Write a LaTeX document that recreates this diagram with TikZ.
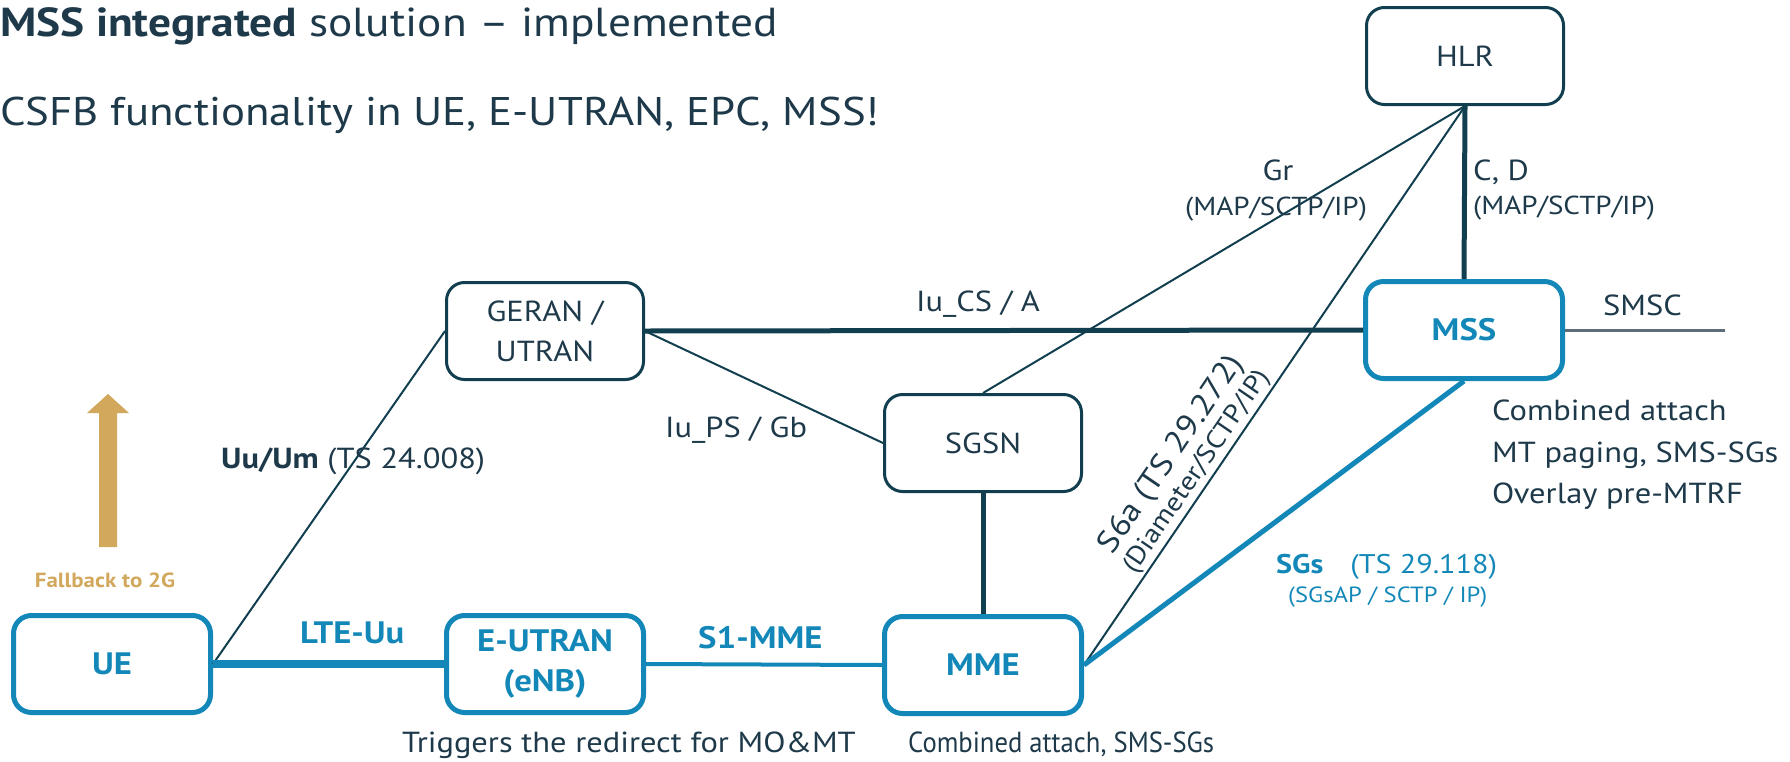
\documentclass[tikz,border=0pt]{standalone}
\usepackage{graphicx}
\usepackage{fontspec}
\setmainfont{PT Sans}[FakeStretch=1.12]
\definecolor{ink}{HTML}{1E3A4A}
\definecolor{navy}{HTML}{123F50}
\definecolor{eblue}{HTML}{1388B8}
\definecolor{gold}{HTML}{D2A85C}
\definecolor{greyline}{HTML}{5E6E78}
\newcommand{\fsz}[1]{\fontsize{#1}{#1}\selectfont}
\begin{document}
\begin{tikzpicture}[x=1pt,y=-1pt,
  box/.style={draw=navy, line width=3pt, rounded corners=18pt,
    minimum width=197pt, minimum height=97pt, align=center,
    text=ink, font=\fontsize{29}{40}\selectfont, inner sep=0pt},
  bluebox/.style={box, draw=eblue, line width=5pt, text=eblue,
    font=\fontsize{31}{40}\selectfont\bfseries},
  thickline/.style={draw=navy, line width=5pt},
  thinline/.style={draw=navy, line width=2pt},
  lbl/.style={text=ink, font=\fsz{29}, inner sep=0pt},
  small/.style={text=ink, font=\fsz{26}, inner sep=0pt},
  bluelbl/.style={text=eblue, font=\fsz{31}\bfseries, inner sep=0pt}]
\useasboundingbox (0,0) rectangle (1790,761);

% headings
\node[anchor=base west, text=ink, font=\fsz{40.5}, inner sep=0pt] (title) at (0,36)
  {\textbf{MSS integrated} solution -- implemented};
\node[anchor=base west, text=ink, font=\fsz{40}, inner sep=0pt] (subtitle) at (0,125)
  {CSFB functionality in UE, E-UTRAN, EPC, MSS!};

% network elements
\node[box] (hlr) at (1465,56) {HLR};
\node[box] (geran) at (545,331) {GERAN /\\UTRAN};
\node[bluebox] (mss) at (1464,330) {MSS};
\node[box] (sgsn) at (983,443) {SGSN};
\node[bluebox] (ue) at (112,664) {UE};
\node[bluebox] (enb) at (545,664) {E-UTRAN\\(eNB)};
\node[bluebox] (mme) at (983,665) {MME};
\coordinate (smsc) at (1725,330);

% interfaces
\draw[thinline] (ue.east) -- (geran.west);
\draw[thinline] (geran.east) -- (sgsn.west);
\draw[thinline] (sgsn.north) -- (hlr.south);
\draw[thinline] (mme.east) -- (hlr.south)
  node[pos=0.33, sloped, above=2pt, align=center, text=ink, inner sep=0pt]
  {{\fsz{31}S6a (TS 29.272)}\\[3pt]{\fsz{26}(Diameter/SCTP/IP)}};
\draw[thickline] (geran.east) -- (mss.west);
\draw[thickline] (hlr.south) -- (mss.north);
\draw[thickline] (sgsn.south) -- (mme.north);
\draw[draw=eblue, line width=8pt] (ue.east) -- (enb.west);
\draw[draw=eblue, line width=4pt] (enb.east) -- (mme.west);
\draw[draw=eblue, line width=5pt] (mme.east) -- (mss.south);
\draw[draw=greyline, line width=3pt] (mss.east) -- (smsc);

% interface labels
\node[lbl, anchor=base] (lcs) at (978,311) {Iu\_CS / A};
\node[lbl, anchor=base west] (lps) at (665,437) {Iu\_PS / Gb};
\node[lbl, anchor=base] (lgr) at (1278,180) {Gr};
\node[small, anchor=base] (lgrp) at (1276,215) {(MAP/SCTP/IP)};
\node[lbl, anchor=base west] (lcd) at (1473,180) {C, D};
\node[small, anchor=base west] (lcdp) at (1473,214) {(MAP/SCTP/IP)};
\node[lbl, anchor=base west] (lsmsc) at (1603,315) {SMSC};
\node[lbl, anchor=base west] (luu) at (221,468) {\textbf{Uu/Um} (TS 24.008)};
\node[bluelbl, anchor=base west] (llte) at (300,643) {LTE-Uu};
\node[bluelbl, anchor=base west] (ls1) at (698,648) {S1-MME};
\node[text=eblue, font=\fsz{27}, inner sep=0pt, anchor=base west] (lsgs) at (1276,573)
  {\textbf{SGs}\quad(TS 29.118)};
\node[text=eblue, font=\fsz{22}, inner sep=0pt, anchor=base west] (lsgsp) at (1288,602)
  {(SGsAP / SCTP / IP)};

% notes
\node[lbl, anchor=base west] (n1) at (1492,420) {Combined attach};
\node[lbl, anchor=base west] (n2) at (1492,462) {MT paging, SMS-SGs};
\node[lbl, anchor=base west] (n3) at (1492,503) {Overlay pre-MTRF};
\node[lbl, anchor=base west] (n4) at (402,752) {Triggers the redirect for MO\&MT};
\node[lbl, anchor=base west] (n5) at (908,752)
  {\scalebox{0.82}[1]{Combined attach, SMS-SGs}};

% fallback arrow
\fill[gold] (99,547) -- (117,547) -- (117,413) -- (129,413) -- (108,394)
  -- (87,413) -- (99,413) -- cycle;
\node[text=gold, font=\fsz{20.5}\bfseries, inner sep=0pt, anchor=base] (fb) at (105,587)
  {Fallback to 2G};
\end{tikzpicture}
\end{document}
